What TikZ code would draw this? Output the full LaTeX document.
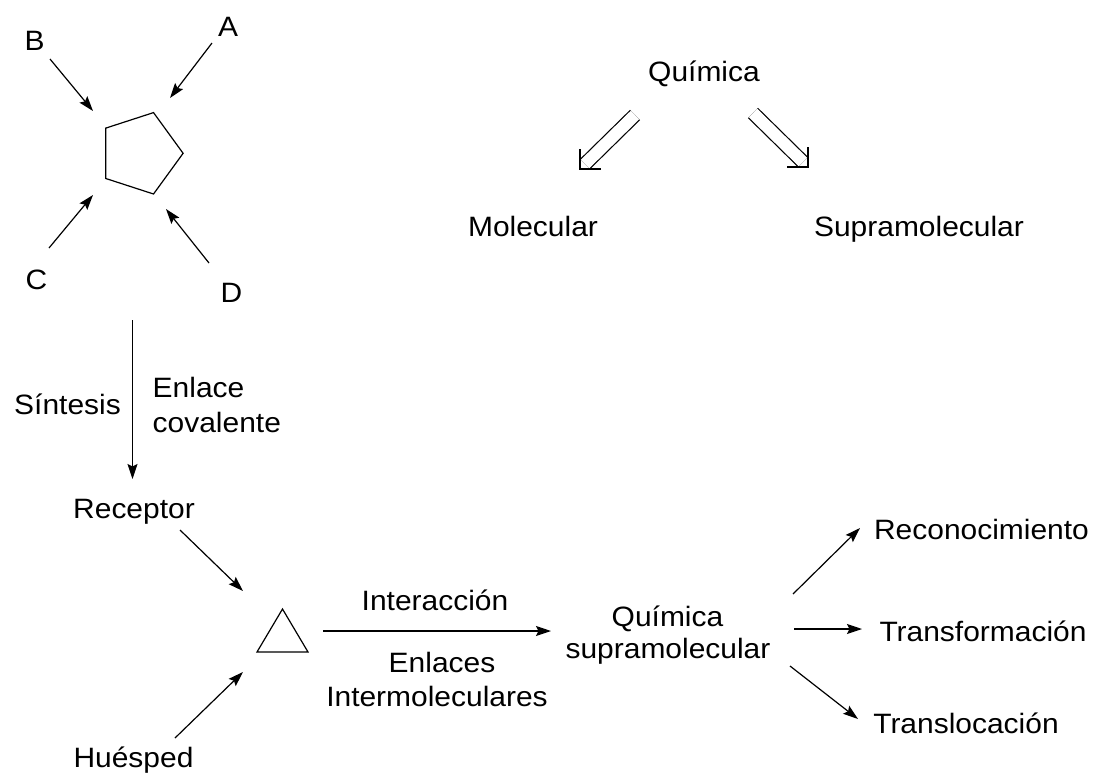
\documentclass[tikz,border=0pt]{standalone}
\usepackage{fontspec}
\setmainfont{Liberation Sans}
\usetikzlibrary{arrows.meta,shapes.geometric}
\begin{document}
\begin{tikzpicture}[x=1pt,y=-1pt,
  lbl/.style={font=\fontsize{28}{35}\selectfont, inner sep=0pt, xscale=1.07, anchor=base},
  arr/.style={line width=1.2pt, -{Stealth[length=15pt,width=10pt,inset=2.5pt]}},
  dbl/.style={line width=1.2pt, double, double distance=12pt, shorten >=7pt},
  barb/.style={line width=1.2pt, line join=miter}]
\useasboundingbox (0,0) rectangle (1094,774);
% pentagon and reagents
\node[regular polygon, regular polygon sides=5, shape border rotate=-90, minimum size=85.6pt, inner sep=0pt, draw, line width=1.2pt] (pent) at (140.3,153.3) {};
\node[lbl] (B) at (34.5,50) {B};
\node[lbl] (A) at (228,36) {A};
\node[lbl] (C) at (36.5,289) {C};
\node[lbl] (D) at (231.5,302) {D};
\coordinate (b1) at (50,59);  \coordinate (b2) at (93,111);
\coordinate (a1) at (212,43); \coordinate (a2) at (170,98);
\coordinate (c1) at (49,248); \coordinate (c2) at (93,195);
\coordinate (d1) at (209,263); \coordinate (d2) at (166,209);
\draw[arr] (b1) -- (b2);
\draw[arr] (a1) -- (a2);
\draw[arr] (c1) -- (c2);
\draw[arr] (d1) -- (d2);
% Quimica
\node[lbl] (qui) at (704,81) {Química};
\node[lbl] (mol) at (533,236) {Molecular};
\node[lbl] (sup) at (919,236) {Supramolecular};
\coordinate (ql1) at (635,115); \coordinate (ql2) at (580,169);
\coordinate (qr1) at (753,113); \coordinate (qr2) at (808,167);
\draw[dbl] (ql1) -- (ql2);
\draw[barb] (ql2) ++(0,-20) -- (ql2) -- ++(21,0);
\draw[dbl] (qr1) -- (qr2);
\draw[barb] (qr2) ++(0,-20) -- (qr2) -- ++(-21,0);
% synthesis
\coordinate (s1) at (132.5,320); \coordinate (s2) at (132.5,479);
\draw[arr] (s1) -- (s2);
\node[lbl] (sin) at (67.5,414) {Síntesis};
\node[lbl, anchor=base west] (enl) at (152.5,397) {Enlace};
\node[lbl, anchor=base west] (cov) at (152.5,432) {covalente};
\node[lbl] (rec) at (134,518.5) {Receptor};
\node[lbl] (hue) at (133.5,767) {Huésped};
% triangle
\coordinate (t1) at (257,652); \coordinate (t2) at (282.5,609); \coordinate (t3) at (308,652);
\draw[line width=1.2pt, line join=miter] (t1) -- (t2) -- (t3) -- cycle;
\coordinate (r1) at (180,530); \coordinate (r2) at (243,591);
\coordinate (h1) at (175,738); \coordinate (h2) at (243,672);
\draw[arr] (r1) -- (r2);
\draw[arr] (h1) -- (h2);
% interaction
\coordinate (i1) at (323,631); \coordinate (i2) at (551,631);
\draw[arr] (i1) -- (i2);
\node[lbl] (int) at (435,610) {Interacción};
\node[lbl] (enls) at (442,672) {Enlaces};
\node[lbl] (inter) at (437,706) {Intermoleculares};
\node[lbl] (qs1) at (667.5,626) {Química};
\node[lbl] (qs2) at (668,658) {supramolecular};
% outcomes
\coordinate (o1) at (793,594); \coordinate (o2) at (860,528);
\coordinate (o3) at (794,629); \coordinate (o4) at (862,629);
\coordinate (o5) at (790,666); \coordinate (o6) at (858,719);
\draw[arr] (o1) -- (o2);
\draw[arr] (o3) -- (o4);
\draw[arr] (o5) -- (o6);
\node[lbl] (reco) at (981.5,539) {Reconocimiento};
\node[lbl] (tran) at (983,641) {Transformación};
\node[lbl] (tras) at (966,733) {Translocación};
\end{tikzpicture}
\end{document}
